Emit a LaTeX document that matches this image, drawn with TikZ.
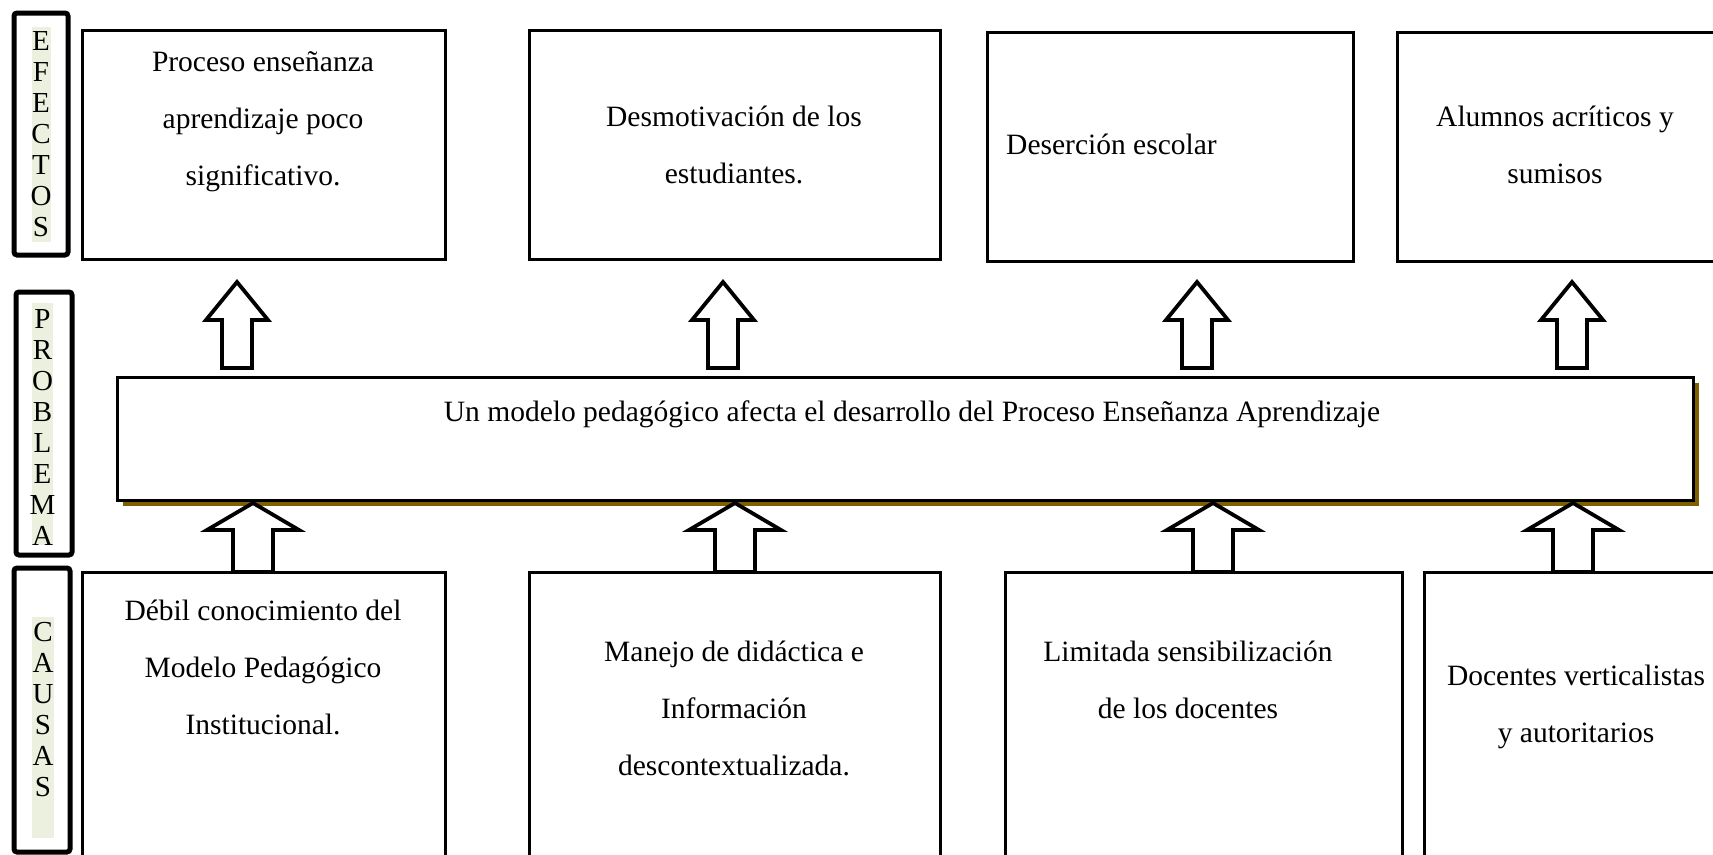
\documentclass[tikz,border=0pt]{standalone}
\usepackage{fontspec}
\setmainfont{Liberation Serif}
\definecolor{shadowgold}{RGB}{127,96,0}
\definecolor{stripgreen}{RGB}{235,241,222}
\newcommand\myblockarrow[6]{% x, ybottom, ytip, yheadbase, half shaft, half head
  \draw[blk] ({#1-#5},#2) -- ({#1-#5},#4) -- ({#1-#6},#4) -- (#1,#3) -- ({#1+#6},#4) -- ({#1+#5},#4) -- ({#1+#5},#2) -- cycle;}
\begin{document}
\begin{tikzpicture}[x=1pt,y=-1pt,
  box/.style={draw, line width=3pt, inner sep=0pt, fill=white},
  txt/.style={font=\fontsize{29.5}{57}\selectfont, align=center, inner sep=0pt},
  labbox/.style={draw, line width=5pt, rounded corners=3pt, inner sep=0pt},
  labtxt/.style={font=\fontsize{29}{31}\selectfont, align=center, inner sep=0pt},
  blk/.style={draw, line width=3.8pt, fill=white, line join=miter}
]
\useasboundingbox (0,0) rectangle (1713,854);
\clip (0,0) rectangle (1713,854);

% side labels
\node[labbox, minimum width=54, minimum height=242] (l1) at (41,134) {};
\node[labbox, minimum width=56, minimum height=263] (l2) at (44,423.5) {};
\node[labbox, minimum width=56, minimum height=284] (l3) at (42,710) {};
\fill[stripgreen] (32,27) rectangle (51,242);
\fill[stripgreen] (32,303) rectangle (53,545);
\fill[stripgreen] (32,617) rectangle (54,838);
\node[labtxt] (l1t) at (41,134.5) {E\\F\\E\\C\\T\\O\\S};
\node[labtxt] (l2t) at (42.5,427) {P\\R\\O\\B\\L\\E\\M\\A};
\node[labtxt] (l3t) at (43,710) {C\\A\\U\\S\\A\\S};

% effect boxes
\node[box, minimum width=363, minimum height=229] (e1) at (263.5,144.5) {};
\node[box, minimum width=411, minimum height=229] (e2) at (734.5,144.5) {};
\node[box, minimum width=366, minimum height=229] (e3) at (1170,146.5) {};
\node[box, minimum width=333, minimum height=229] (e4) at (1563.5,146.5) {};
\node[txt] (e1t) at (263,122) {Proceso enseñanza\\aprendizaje poco\\significativo.};
\node[txt] (e2t) at (734,145) {Desmotivación de los\\estudiantes.};
\node[txt, anchor=west] (e3t) at (1006,144) {Deserción escolar};
\node[txt] (e4t) at (1555,145) {Alumnos acríticos y\\sumisos};

% problem box with shadow
\fill[shadowgold] (123,383) rectangle (1699,506);
\node[box, minimum width=1576, minimum height=123] (p) at (905,438.5) {};
\node[txt] (pt) at (912,414) {Un modelo pedagógico afecta el desarrollo del Proceso Enseñanza Aprendizaje};

% cause boxes
\node[box, minimum width=363, minimum height=308] (c1) at (263.5,726) {};
\node[box, minimum width=411, minimum height=308] (c2) at (734.5,726) {};
\node[box, minimum width=397, minimum height=308] (c3) at (1203.5,726) {};
\node[box, minimum width=306, minimum height=308] (c4) at (1577,726) {};
\node[txt] (c1t) at (263,667) {Débil conocimiento del\\Modelo Pedagógico\\Institucional.};
\node[txt] (c2t) at (734,708) {Manejo de didáctica e\\Información\\descontextualizada.};
\node[txt] (c3t) at (1188,680) {Limitada sensibilización\\de los docentes};
\node[txt] (c4t) at (1576,707) {Docentes verticalistas\\y autoritarios};

% upper arrows (problem -> effects)
\myblockarrow{237}{368}{282}{320}{15}{31}
\myblockarrow{723}{368}{282}{320}{15}{31}
\myblockarrow{1197}{368}{282}{320}{15}{31}
\myblockarrow{1572}{368}{282}{320}{15}{31}

% lower arrows (causes -> problem)
\myblockarrow{253}{572}{503}{530}{20}{46}
\myblockarrow{735}{572}{503}{530}{20}{46}
\myblockarrow{1213}{572}{503}{530}{20}{46}
\myblockarrow{1573}{572}{503}{530}{20}{46}
\end{tikzpicture}
\end{document}
